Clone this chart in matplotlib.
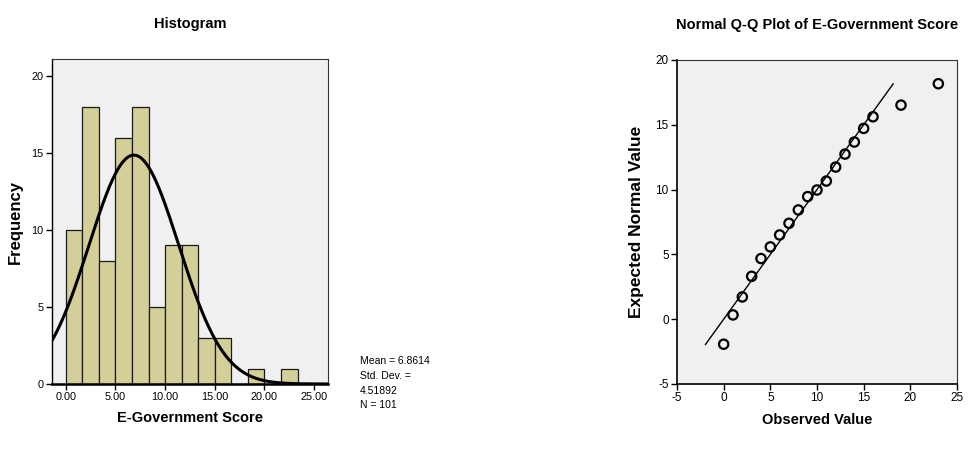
import numpy as np
import matplotlib.pyplot as plt

# E-Government score histogram (bin width 5/3) and normal Q-Q points
bin_edges = np.arange(15) * 5.0 / 3.0
counts = [10, 18, 8, 16, 18, 5, 9, 9, 3, 3, 0, 1, 0, 1]
mean, sd, n = 6.8614, 4.51892, 101

observed = [0, 1, 2, 3, 4, 5, 6, 7, 8, 9, 10, 11, 12, 13, 14, 15, 16, 19, 23]
expected = [-1.93, 0.33, 1.72, 3.31, 4.68, 5.58, 6.5, 7.4, 8.43, 9.46, 9.97,
            10.66, 11.74, 12.74, 13.67, 14.72, 15.62, 16.52, 18.17]
ref_line = [-1.95, 18.15]

plt.rcParams['font.family'] = ['Liberation Sans', 'DejaVu Sans']
plt.rcParams['axes.unicode_minus'] = False
bg = '#f0f0f0'
bar_col = '#d4cf99'

fig = plt.figure(figsize=(9.71, 4.55), dpi=100)

# histogram with fitted normal curve
ax1 = fig.add_axes([52/971, 71/455, 276/971, 325/455])
ax1.set_facecolor(bg)
ax1.bar(bin_edges[:-1], counts, width=np.diff(bin_edges), align='edge',
        color=bar_col, edgecolor='#1a1a1a', linewidth=0.9, zorder=2)
xs = np.linspace(-1.4, 26.4, 400)
pdf = np.exp(-0.5 * ((xs - mean) / sd) ** 2) / (sd * np.sqrt(2 * np.pi))
ax1.plot(xs, n * (5.0 / 3.0) * pdf, color='black', lw=2.2, zorder=3)
ax1.set_xlim(-1.38, 26.4)
ax1.set_ylim(0, 21.1)
ax1.set_xticks([0, 5, 10, 15, 20, 25])
ax1.set_xticklabels(['%.2f' % v for v in [0, 5, 10, 15, 20, 25]])
ax1.set_yticks([0, 5, 10, 15, 20])
ax1.tick_params(labelsize=7.8, length=4, width=1, direction='out', pad=2)
for side in ['top', 'right']:
    ax1.spines[side].set_linewidth(0.8)
    ax1.spines[side].set_color('#333333')
ax1.spines['bottom'].set_linewidth(1.8)
ax1.spines['left'].set_linewidth(1.0)
ax1.set_title('Histogram', fontsize=10.5, fontweight='bold', pad=22)
ax1.set_xlabel('E-Government Score', fontsize=10.5, fontweight='bold', labelpad=6)
ax1.set_ylabel('Frequency', fontsize=12, fontweight='bold', labelpad=6)

fig.text(360/971, 1 - 356/455, 'Mean = 6.8614\nStd. Dev. =\n4.51892\nN = 101',
         fontsize=7.5, va='top', ha='left', linespacing=1.6)

# normal Q-Q plot
ax2 = fig.add_axes([677/971, 71/455, 280/971, 324/455])
ax2.set_facecolor(bg)
ax2.plot(ref_line, ref_line, color='black', lw=1.0, zorder=2)
ax2.scatter(observed, expected, s=45, facecolors='none', edgecolors='black',
            linewidths=1.6, zorder=3)
ax2.set_xlim(-5, 25)
ax2.set_ylim(-5, 20)
ax2.set_xticks(range(-5, 26, 5))
ax2.set_yticks(range(-5, 21, 5))
ax2.tick_params(labelsize=8.5, length=4, width=1, direction='out', pad=2)
for side in ['top', 'right']:
    ax2.spines[side].set_linewidth(0.8)
    ax2.spines[side].set_color('#333333')
ax2.spines['bottom'].set_linewidth(1.2)
ax2.spines['left'].set_linewidth(1.2)
ax2.set_title('Normal Q-Q Plot of E-Government Score', fontsize=10.5,
              fontweight='bold', pad=22)
ax2.set_xlabel('Observed Value', fontsize=10.5, fontweight='bold', labelpad=6)
ax2.set_ylabel('Expected Normal Value', fontsize=12.5, fontweight='bold', labelpad=8)

fig.savefig('out.png', dpi=100)
